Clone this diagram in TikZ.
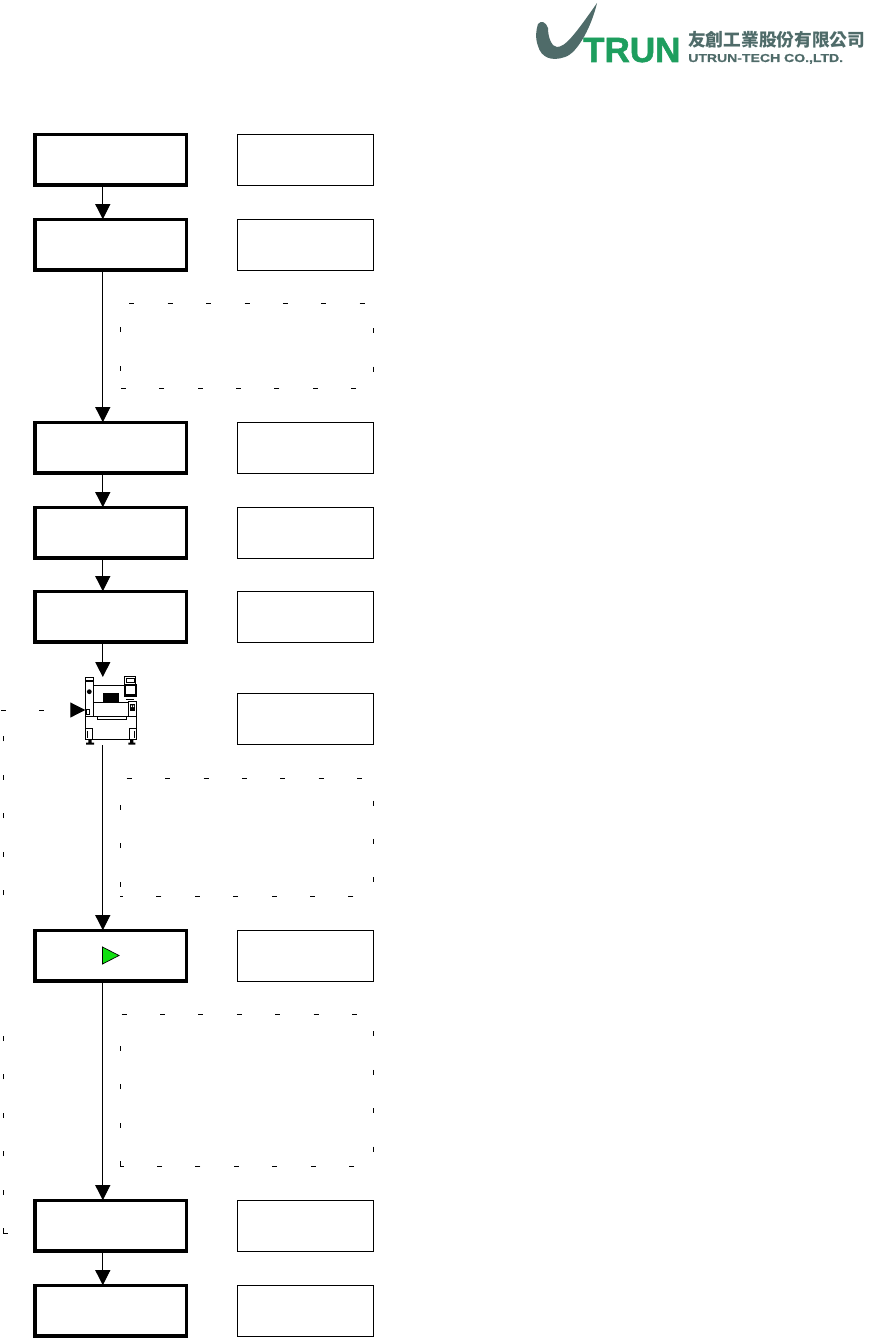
\documentclass[tikz,border=0pt]{standalone}
\usepackage{fontspec}
\newfontfamily\logofont[FakeBold=1.5]{Liberation Sans Bold}
\newfontfamily\subfont[FakeBold=0.6]{Liberation Sans Bold}
\newfontfamily\cjkfont{Noto Sans CJK TC}
\usetikzlibrary{arrows.meta}
\definecolor{logogreen}{HTML}{1E9E5E}
\definecolor{logogray}{HTML}{4F6B69}
\definecolor{markgreen}{HTML}{10E010}
\tikzset{
	stepbox/.style={draw, line width=3.3pt, minimum width=151.3pt, minimum height=50.7pt, inner sep=0pt, outer sep=0pt},
	notebox/.style={draw, line width=1pt, minimum width=136pt, minimum height=51pt, inner sep=0pt, outer sep=0pt},
	sparse/.style={line width=1pt, dash pattern=on 5pt off 33.4pt},
	flow/.style={->, line width=1pt},
	part/.style={draw, line width=1pt, fill=white},
}
\begin{document}
\begin{tikzpicture}[>={Triangle[length=15pt,width=15pt]}, x=1pt, y=-1pt]
	\useasboundingbox (0,0) rectangle (870,1338);
	
	% 1. Logo
	\fill[logogray] (538,24) .. controls (541,20) and (546,22) .. (548,28)
	.. controls (548,38) and (552,47) .. (557,47)
	.. controls (565,47) and (574,36) .. (597,3)
	.. controls (592,25) and (578,53) .. (565,57)
	.. controls (551,62) and (541,57) .. (538,46)
	.. controls (535,38) and (536,30) .. (538,24) -- cycle;
	\node[logogreen, inner sep=0pt, anchor=base west] (brand) at (583,62) {\logofont\fontsize{35}{35}\selectfont TRUN};
	\node[logogray, inner sep=0pt, anchor=base west] (brandcn) at (688,47) {\cjkfont\bfseries\fontsize{17.7}{18}\selectfont 友創工業股份有限公司};
	\node[logogray, inner sep=0pt, anchor=base west, xscale=1.22] (branden) at (688,62) {\subfont\fontsize{11.5}{12}\selectfont UTRUN-TECH CO.,LTD.};
	
	% 2. Left column
	\node[stepbox] (receive) at (110.5,159.5) {};
	\node[stepbox] (check) at (110.5,244.5) {};
	\node[stepbox] (prepare) at (110.5,447.5) {};
	\node[stepbox] (load) at (110.5,532.5) {};
	\node[stepbox] (setup) at (110.5,616.5) {};
	\node[inner sep=0pt, outer sep=0pt, minimum width=51pt, minimum height=68pt] (machine) at (110.8,711) {};
	\node[stepbox] (run) at (110.5,955.5) {};
	\node[stepbox] (inspect) at (110.5,1225.5) {};
	\node[stepbox] (finish) at (110.5,1310.5) {};
	
	% 3. Right column
	\node[notebox] (notea) at (305.2,159.5) {};
	\node[notebox] (noteb) at (305.2,244.5) {};
	\node[notebox] (notec) at (305.2,447.5) {};
	\node[notebox] (noted) at (305.2,532.5) {};
	\node[notebox] (notee) at (305.2,616.5) {};
	\node[notebox] (notef) at (305.2,718.5) {};
	\node[notebox] (noteg) at (305.2,955.5) {};
	\node[notebox] (noteh) at (305.2,1225.5) {};
	\node[notebox] (notei) at (305.2,1310.5) {};
	
	% 4. Main flow
	\coordinate (spine) at (102.8,0);
	\draw[flow] (receive.south -| spine) -- (check.north -| spine);
	\draw[flow] (check.south -| spine) -- (prepare.north -| spine);
	\draw[flow] (prepare.south -| spine) -- (load.north -| spine);
	\draw[flow] (load.south -| spine) -- (setup.north -| spine);
	\draw[flow] (setup.south -| spine) -- (machine.north -| spine);
	\draw[flow] (machine.south -| spine) -- (run.north -| spine);
	\draw[flow] (run.south -| spine) -- (inspect.north -| spine);
	\draw[flow] (inspect.south -| spine) -- (finish.north -| spine);
	
	% 5. Green mark
	\draw[fill=markgreen, line width=0.7pt] (102.5,947) -- (119,955.5) -- (102.5,964) -- cycle;
	
	% 6. Sparse frames
	\draw[sparse, dash phase=20.9pt] (120,388) -- (120,303) -- (373,303) -- (373,388) -- cycle;
	\draw[sparse, dash phase=28.9pt] (120,896) -- (120,778) -- (373,778) -- (373,896) -- cycle;
	\draw[sparse] (120,1166) -- (120,1014) -- (373,1014) -- (373,1166) -- cycle;
	
	% 7. Return line
	\coordinate (backd) at (3,1233);
	\coordinate (backa) at (3,1020);
	\coordinate (backb) at (3,895);
	\coordinate (backc) at (1,710);
	\draw[sparse] (backd) -- (inspect.west |- backd);
	\draw[sparse] (backd) -- (backa);
	\draw[sparse] (backb) -- (3,735);
	\draw[sparse, ->] (backc) -- (machine.west |- backc);
	
	% 8. Machine
	\draw[part] (85.3,716) -- (85.3,739.3) -- (136.3,739.3) -- (136.3,716);
	\draw[line width=1pt] (93.7,685) -- (124.5,685);
	\draw[part] (93.7,702.3) rectangle (128.3,716);
	\draw[line width=1pt] (85.3,716) -- (97.3,716) -- (97.3,719.3) -- (126,719.3) -- (126,716) -- (136.3,716);
	\fill (103,693.3) rectangle (119,702.3);
	% column
	\draw[part] (85.3,677.3) rectangle (93.7,716);
	\fill (85.3,680) rectangle (93.7,682.3);
	\fill (89.3,691.7) circle (2.4);
	\draw[part] (86,709) rectangle (89.7,714.3);
	% monitors
	\draw[line width=1.3pt, fill=white] (124.6,676.6) rectangle (135.8,684.3);
	\draw[line width=0.6pt] (126.6,678.4) rectangle (133.8,682.4);
	\fill (124,684.3) rectangle (136.8,697);
	\fill[white] (126,686.3) rectangle (134.8,693.5);
	\draw[line width=0.8pt] (126.3,699.3) -- (133.5,699.3);
	% side panel
	\draw[part] (128.3,701.7) rectangle (136.3,716);
	\fill (130.3,704) rectangle (134.7,710.7);
	\fill[white] (131,705.4) rectangle (132,707) (133,705.4) rectangle (134,707);
	% legs
	\draw[line width=1.2pt, fill=white] (85.3,728.7) rectangle (92.3,739.3);
	\draw[line width=0.8pt] (87.6,730.6) -- (87.6,738);
	\draw[line width=1.2pt, fill=white] (129.3,728.7) rectangle (136.3,739.3);
	\draw[line width=0.8pt] (134,730.6) -- (134,738);
	\fill (88.3,739.3) rectangle (91.7,742.7) (86,742.7) rectangle (94,744.7);
	\fill (130,739.3) rectangle (133.4,742.7) (128.3,742.7) rectangle (135.3,744.7);
	
\end{tikzpicture}
\end{document}
